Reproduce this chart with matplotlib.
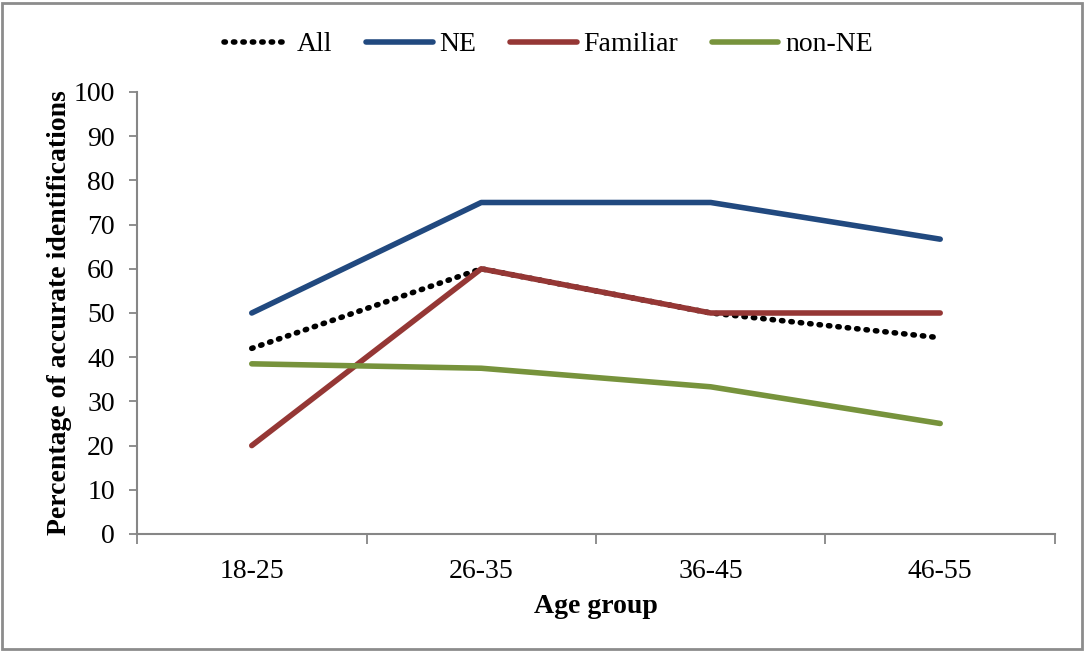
import numpy as np
import matplotlib.pyplot as plt
from matplotlib.patches import Rectangle

plt.rcParams['font.family'] = ['Liberation Serif', 'DejaVu Serif']

# Age groups and percentage of accurate identifications per group
age_groups = ['18-25', '26-35', '36-45', '46-55']
all_pct = [42.0, 60.0, 50.0, 44.4]
ne_pct = [50.0, 75.0, 75.0, 66.7]
familiar_pct = [20.0, 60.0, 50.0, 50.0]
non_ne_pct = [38.5, 37.5, 33.3, 25.0]

axis_grey = '#868686'
fs = 20

fig = plt.figure(figsize=(10.84, 6.52), dpi=100)
ax = fig.add_axes([0.1264, 0.181, 0.8468, 0.6779])

x = np.arange(len(age_groups))
ax.plot(x, all_pct, color='black', lw=4.0, linestyle=(0, (0.25, 1.45)),
        dash_capstyle='round', label='All', zorder=3)
ax.plot(x, ne_pct, color='#21497F', lw=4.0, solid_capstyle='round', label='NE', zorder=4)
ax.plot(x, familiar_pct, color='#953735', lw=4.0, solid_capstyle='round', label='Familiar', zorder=4)
ax.plot(x, non_ne_pct, color='#77933C', lw=4.0, solid_capstyle='round', label='non-NE', zorder=4)

ax.set_xlim(-0.5, len(age_groups) - 0.5)
ax.set_ylim(0, 100)
ax.set_yticks(np.arange(0, 101, 10))

# category labels sit between boundary ticks
ax.set_xticks(np.arange(-0.5, len(age_groups), 1.0))
ax.set_xticklabels([])
ax.set_xticks(x, minor=True)
ax.set_xticklabels(age_groups, minor=True)
ax.tick_params(axis='x', which='major', length=7, width=1.3, color=axis_grey, direction='out')
ax.tick_params(axis='x', which='minor', length=0, pad=18, labelsize=fs)
ax.tick_params(axis='y', length=6, width=1.3, color=axis_grey, direction='out', pad=10, labelsize=fs)

for side in ('top', 'right'):
    ax.spines[side].set_visible(False)
for side in ('left', 'bottom'):
    ax.spines[side].set_color(axis_grey)
    ax.spines[side].set_linewidth(1.5)

ax.set_xlabel('Age group', fontsize=fs, fontweight='bold', labelpad=7)
ax.set_ylabel('Percentage of accurate identifications', fontsize=fs, fontweight='bold', labelpad=1)

ax.legend(loc='lower center', bbox_to_anchor=(0.448, 1.022), ncol=4, frameon=False,
          fontsize=fs, handlelength=2.4, handletextpad=0.25, columnspacing=1.2)

# outer chart border
fig.patches.append(Rectangle((0.002, 0.004), 0.996, 0.992, transform=fig.transFigure,
                             fill=False, edgecolor='#8C8C8C', linewidth=2))

fig.savefig('out.png', dpi=100)
